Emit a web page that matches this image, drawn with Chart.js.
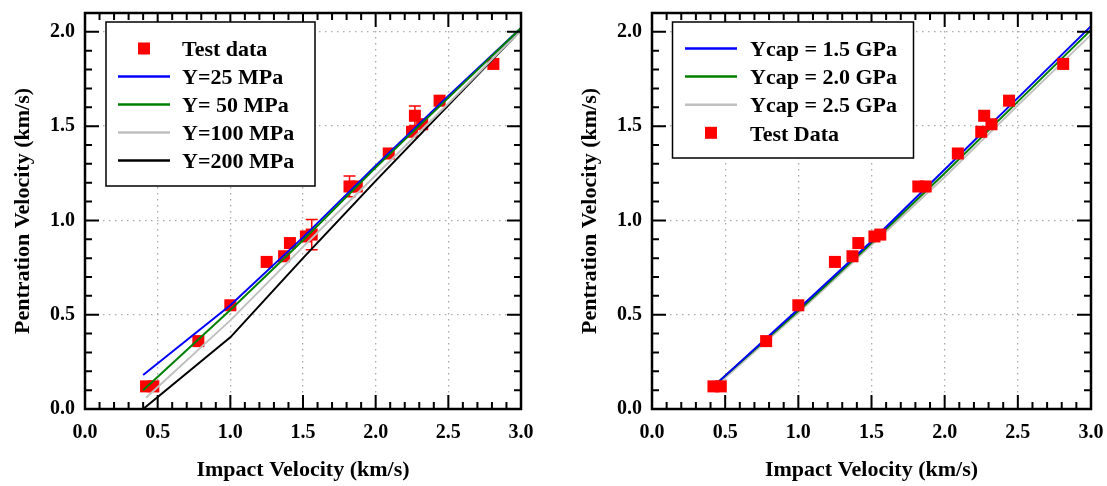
<!DOCTYPE html>
<html><head><meta charset="utf-8">
<script src="https://cdn.jsdelivr.net/npm/chart.js@4.4.0/dist/chart.umd.min.js"></script>
<style>
html,body{margin:0;padding:0;background:#fff;}
#wrap{position:relative;width:1107px;height:486px;overflow:hidden;}
canvas{position:absolute;top:0;}
#left{left:0;}
#right{left:553px;}
</style></head><body>
<div id="wrap"><canvas id="left" width="553" height="486"></canvas><canvas id="right" width="554" height="486"></canvas></div>
<script>
// ---- data ----
const xTicks = [0, 0.5, 1.0, 1.5, 2.0, 2.5, 3.0];
const yTicks = [0, 0.5, 1.0, 1.5, 2.0];
const testX = [0.42, 0.47, 0.78, 1.00, 1.25, 1.37, 1.41, 1.52, 1.56, 1.82, 1.87, 2.09, 2.25, 2.27, 2.32, 2.44, 2.81];
const testY = [0.12, 0.12, 0.36, 0.55, 0.78, 0.81, 0.88, 0.915, 0.925, 1.18, 1.18, 1.355, 1.47, 1.555, 1.51, 1.635, 1.83];
const testErr = [0, 0, 0, 0, 0, 0, 0, 0, 0.08, 0.055, 0, 0, 0, 0.052, 0, 0, 0];

const leftLabels = ['Test data', 'Y=25 MPa', 'Y= 50 MPa', 'Y=100 MPa', 'Y=200 MPa'];
const y25X = [0.40, 1.0, 1.5, 2.0, 2.5, 3.0];
const y25Y = [0.18, 0.55, 0.91, 1.29, 1.66, 2.02];
const y50X = [0.40, 1.0, 1.5, 2.0, 2.5, 3.0];
const y50Y = [0.10, 0.525, 0.895, 1.28, 1.65, 2.02];
const y100X = [0.42, 1.0, 1.5, 2.0, 2.5, 3.0];
const y100Y = [0.06, 0.47, 0.86, 1.24, 1.62, 2.01];
const y200X = [0.40, 1.0, 1.5, 2.0, 2.5, 3.0];
const y200Y = [0.00, 0.38, 0.80, 1.21, 1.61, 2.01];

const rightLabels = ['Ycap = 1.5 GPa', 'Ycap = 2.0 GPa', 'Ycap = 2.5 GPa', 'Test Data'];
const cap15X = [0.42, 1.0, 1.5, 2.0, 2.5, 3.0];
const cap15Y = [0.12, 0.53, 0.89, 1.27, 1.65, 2.03];
const cap20X = [0.42, 1.0, 1.5, 2.0, 2.5, 3.0];
const cap20Y = [0.12, 0.52, 0.88, 1.25, 1.63, 2.01];
const cap25X = [0.42, 1.0, 1.5, 2.0, 2.5, 3.0];
const cap25Y = [0.11, 0.51, 0.87, 1.23, 1.61, 1.985];

const xTitle = 'Impact Velocity (km/s)';
const yTitle = 'Pentration Velocity (km/s)';

// ---- helpers ----
const pts = (xs, ys) => xs.map((x, i) => ({x, y: ys[i]}));
const SERIF = '"Liberation Serif", "Times New Roman", serif';
const RED = '#ff0000', BLUE = '#0000ff', GREEN = '#008000', GRAY = '#c0c0c0', BLACK = '#000000';

function lineDs(label, xs, ys, color, order) {
  return {label, data: pts(xs, ys), showLine: true, borderColor: color, backgroundColor: color,
          borderWidth: 2, pointRadius: 0, tension: 0, order};
}
function pointDs(label, order) {
  return {label, data: pts(testX, testY), showLine: false, pointStyle: 'rect', pointRadius: 8.5,
          backgroundColor: RED, borderColor: RED, borderWidth: 0, order};
}

const framePlugin = {
  id: 'frame',
  afterDatasetsDraw(chart) {
    const {ctx, chartArea: a, scales: {x, y}} = chart;
    ctx.save();
    ctx.strokeStyle = '#000';
    ctx.lineWidth = 2;
    ctx.beginPath();
    for (let i = 0; i <= 30; i++) {
      const px = x.getPixelForValue(i / 10);
      const L = i % 5 === 0 ? 14 : 7;
      ctx.moveTo(px, a.bottom); ctx.lineTo(px, a.bottom - L);
      ctx.moveTo(px, a.top); ctx.lineTo(px, a.top + L);
    }
    for (let i = 0; i <= 21; i++) {
      const py = y.getPixelForValue(i / 10);
      const L = i % 5 === 0 ? 14 : 7;
      ctx.moveTo(a.left, py); ctx.lineTo(a.left + L, py);
      ctx.moveTo(a.right, py); ctx.lineTo(a.right - L, py);
    }
    ctx.stroke();
    ctx.lineWidth = 2.5;
    ctx.strokeRect(a.left, a.top, a.right - a.left, a.bottom - a.top);
    ctx.restore();
  }
};

const errPlugin = {
  id: 'errbars',
  beforeDatasetsDraw(chart, args, opts) {
    if (!opts.show) return;
    const {ctx, scales: {x, y}} = chart;
    ctx.save();
    ctx.strokeStyle = RED; ctx.lineWidth = 1.5;
    ctx.beginPath();
    testX.forEach((vx, i) => {
      const e = testErr[i];
      if (!e) return;
      const px = x.getPixelForValue(vx);
      const pt = y.getPixelForValue(testY[i] + e), pb = y.getPixelForValue(testY[i] - e);
      ctx.moveTo(px, pt); ctx.lineTo(px, pb);
      ctx.moveTo(px - 6, pt); ctx.lineTo(px + 6, pt);
      ctx.moveTo(px - 6, pb); ctx.lineTo(px + 6, pb);
    });
    ctx.stroke();
    ctx.restore();
  }
};

const boxLegend = {
  id: 'boxLegend',
  afterDraw(chart, args, o) {
    const {ctx} = chart;
    ctx.save();
    ctx.fillStyle = '#fff';
    ctx.fillRect(o.x, o.y, o.w, o.h);
    ctx.strokeStyle = '#000'; ctx.lineWidth = 1.5;
    ctx.strokeRect(o.x, o.y, o.w, o.h);
    ctx.font = 'bold 22px ' + SERIF;
    ctx.textBaseline = 'alphabetic';
    ctx.textAlign = 'left';
    o.items.forEach((it, i) => {
      const cy = o.y + o.first + i * o.step;
      if (it.type === 'line') {
        ctx.strokeStyle = it.color; ctx.lineWidth = 2.5;
        ctx.beginPath(); ctx.moveTo(o.x + o.l0, cy); ctx.lineTo(o.x + o.l1, cy); ctx.stroke();
      } else {
        ctx.fillStyle = it.color;
        const mx = o.x + (o.l0 + o.l1) / 2;
        ctx.fillRect(mx - 6, cy - 6, 12, 12);
      }
      ctx.fillStyle = '#000';
      ctx.fillText(it.label, o.x + o.tx, cy + 7.7);
    });
    ctx.restore();
  }
};

function noPad(s) { s.paddingTop = 0; s.paddingBottom = 0; s.paddingLeft = 0; s.paddingRight = 0; }

function makeOptions(yAxisWidth, yTitlePad, padding, legendOpts, showErr) {
  return {
    responsive: false, animation: false, events: [],
    layout: {padding},
    plugins: {legend: {display: false}, tooltip: {enabled: false}, boxLegend: legendOpts, errbars: {show: showErr}},
    scales: {
      x: {
        type: 'linear', min: 0, max: 3.0,
        afterBuildTicks: s => { s.ticks = xTicks.map(v => ({value: v})); },
        afterFit: s => { s.height = 77; noPad(s); },
        grid: {color: '#aaaaaa', lineWidth: 1.3, drawTicks: false},
        border: {display: false, dash: [1.5, 4.5]},
        ticks: {padding: 12, color: '#000', font: {family: SERIF, size: 20, weight: 'bold'},
                callback: v => Number(v).toFixed(1), maxRotation: 0, autoSkip: false},
        title: {display: true, text: xTitle, color: '#000', padding: {top: 0, bottom: 2},
                font: {family: SERIF, size: 22, weight: 'bold'}}
      },
      y: {
        type: 'linear', min: 0, max: 2.1,
        afterBuildTicks: s => { s.ticks = yTicks.map(v => ({value: v})); },
        afterFit: s => { s.width = yAxisWidth; noPad(s); },
        grid: {color: '#aaaaaa', lineWidth: 1.3, drawTicks: false},
        border: {display: false, dash: [1.5, 4.5]},
        ticks: {padding: 10, color: '#000', font: {family: SERIF, size: 20, weight: 'bold'},
                callback: v => Number(v).toFixed(1), autoSkip: false},
        title: {display: true, text: yTitle, color: '#000', padding: {top: yTitlePad, bottom: 0},
                font: {family: SERIF, size: 22, weight: 'bold'}}
      }
    }
  };
}

new Chart(document.getElementById('left'), {
  type: 'scatter',
  data: {datasets: [
    pointDs(leftLabels[0], 10),
    lineDs(leftLabels[1], y25X, y25Y, BLUE, 2),
    lineDs(leftLabels[2], y50X, y50Y, GREEN, 1),
    lineDs(leftLabels[3], y100X, y100Y, GRAY, 3),
    lineDs(leftLabels[4], y200X, y200Y, BLACK, 4)
  ]},
  options: makeOptions(85, 10, {left: 0, top: 13, right: 32, bottom: 0}, {
    x: 106, y: 22, w: 209, h: 164, first: 26.5, step: 28, l0: 12, l1: 64, tx: 76,
    items: [
      {type: 'point', color: RED, label: leftLabels[0]},
      {type: 'line', color: BLUE, label: leftLabels[1]},
      {type: 'line', color: GREEN, label: leftLabels[2]},
      {type: 'line', color: GRAY, label: leftLabels[3]},
      {type: 'line', color: BLACK, label: leftLabels[4]}
    ]
  }, true),
  plugins: [errPlugin, framePlugin, boxLegend]
});

new Chart(document.getElementById('right'), {
  type: 'scatter',
  data: {datasets: [
    lineDs(rightLabels[0], cap15X, cap15Y, BLUE, 1),
    lineDs(rightLabels[1], cap20X, cap20Y, GREEN, 2),
    lineDs(rightLabels[2], cap25X, cap25Y, GRAY, 3),
    pointDs(rightLabels[3], 0)
  ]},
  options: makeOptions(99, 24, {left: 0, top: 13, right: 16, bottom: 0}, {
    x: 119.5, y: 22, w: 241, h: 136, first: 26.5, step: 28.1, l0: 12.5, l1: 64.5, tx: 77.5,
    items: [
      {type: 'line', color: BLUE, label: rightLabels[0]},
      {type: 'line', color: GREEN, label: rightLabels[1]},
      {type: 'line', color: GRAY, label: rightLabels[2]},
      {type: 'point', color: RED, label: rightLabels[3]}
    ]
  }, false),
  plugins: [framePlugin, boxLegend]
});
</script>
</body></html>
